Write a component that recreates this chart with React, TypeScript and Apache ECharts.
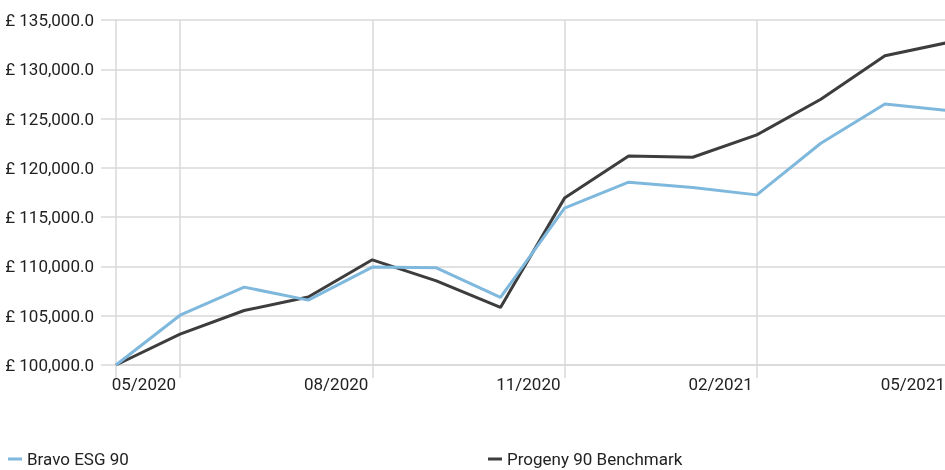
import React, { useEffect, useRef } from "react";
import * as echarts from "echarts";

const months = [
  "04/2020", "05/2020", "06/2020", "07/2020", "08/2020", "09/2020", "10/2020",
  "11/2020", "12/2020", "01/2021", "02/2021", "03/2021", "04/2021", "05/2021",
];
const bravo = [
  100000, 105050, 107900, 106580, 109930, 109860, 106850,
  115910, 118550, 118000, 117260, 122500, 126480, 125800,
];
const progeny = [
  100000, 103140, 105530, 106900, 110670, 108540, 105840,
  116930, 121210, 121080, 123340, 126960, 131380, 132740,
];
const seriesNames = ["Bravo ESG 90", "Progeny 90 Benchmark"];
const colors = ["#7fb8dd", "#3d3d3d"];

const FONT = "'Liberation Sans Narrow', 'Roboto', sans-serif";
const GRID = "#d9d9d9";

export default function App() {
  const ref = useRef<HTMLDivElement>(null);
  useEffect(() => {
    if (!ref.current) return;
    const chart = echarts.init(ref.current, null, { renderer: "svg" });
    const isMarked = (i: number) => i % 3 === 1;
    const legendText = { color: "#222", fontSize: 17, fontFamily: FONT, lineHeight: 18 };
    chart.setOption({
      animation: false,
      color: colors,
      textStyle: { fontFamily: FONT },
      grid: {
        left: 116,
        right: -4,
        top: 20,
        bottom: 105,
        containLabel: false,
        outerBoundsMode: "none",
      },
      legend: [
        {
          data: [seriesNames[0]],
          left: 8,
          top: 450,
          padding: 0,
          icon: "rect",
          itemWidth: 14,
          itemHeight: 3,
          textStyle: legendText,
        },
        {
          data: [seriesNames[1]],
          left: 488,
          top: 450,
          padding: 0,
          icon: "rect",
          itemWidth: 14,
          itemHeight: 3,
          textStyle: legendText,
        },
      ],
      xAxis: {
        type: "category",
        data: months,
        boundaryGap: false,
        axisLine: { show: true, lineStyle: { color: GRID, width: 1.5 } },
        axisTick: {
          show: true,
          length: 13,
          interval: (i: number) => i === 0 || isMarked(i),
          lineStyle: { color: GRID, width: 1.5 },
        },
        axisLabel: {
          interval: (i: number) => isMarked(i),
          align: "right",
          padding: [0, 4, 0, 0],
          margin: 10,
          color: "#222",
          fontSize: 17,
          fontFamily: FONT,
        },
        splitLine: {
          show: true,
          interval: (i: number) => isMarked(i),
          lineStyle: { color: GRID, width: 1.5 },
        },
      },
      yAxis: {
        type: "value",
        min: 100000,
        max: 135000,
        interval: 5000,
        axisLine: { show: true, lineStyle: { color: GRID, width: 1.5 } },
        axisTick: { show: true, length: 15, lineStyle: { color: GRID, width: 1.5 } },
        axisLabel: {
          margin: 22,
          color: "#222",
          fontSize: 17,
          fontFamily: FONT,
          formatter: (v: number) =>
            "£ " + v.toLocaleString("en-GB", { minimumFractionDigits: 1, maximumFractionDigits: 1 }),
        },
        splitLine: { show: true, lineStyle: { color: GRID, width: 1.5 } },
      },
      series: [
        {
          name: seriesNames[0],
          type: "line",
          data: bravo,
          symbol: "none",
          lineStyle: { width: 3, color: colors[0] },
          z: 3,
        },
        {
          name: seriesNames[1],
          type: "line",
          data: progeny,
          symbol: "none",
          lineStyle: { width: 3, color: colors[1] },
          z: 2,
        },
      ],
    });
    return () => chart.dispose();
  }, []);
  return (
    <div
      ref={ref}
      style={{ position: "fixed", left: 0, top: 0, width: 945, height: 470 }}
    />
  );
}
